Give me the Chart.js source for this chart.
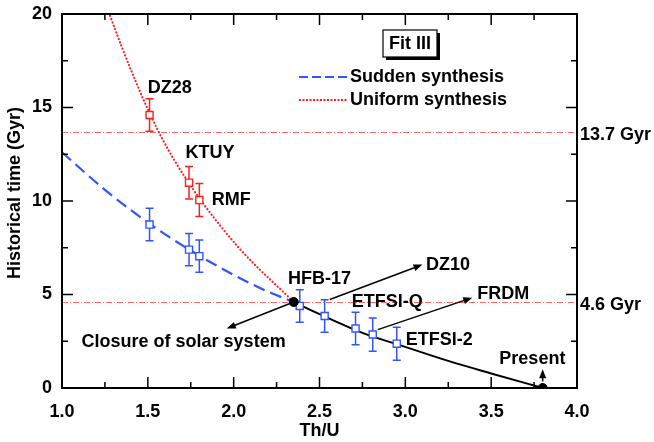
<!DOCTYPE html>
<html>
<head>
<meta charset="utf-8">
<script src="https://cdn.jsdelivr.net/npm/chart.js@4.4.0/dist/chart.umd.min.js"></script>
<style>
html, body { margin: 0; padding: 0; background: #fff; }
#wrap { width: 654px; height: 442px; }
</style>
</head>
<body>
<div id="wrap"><canvas id="chart"></canvas></div>
<script>
// curves
const suddenX = [1.0, 1.25, 1.5, 1.75, 2.0, 2.2, 2.35];
const suddenY = [12.6, 10.6, 8.85, 7.35, 6.05, 5.15, 4.6];
const uniformX = [1.28, 1.35, 1.42, 1.50, 1.58, 1.66, 1.74, 1.82, 1.92, 2.03, 2.15, 2.25, 2.35];
const uniformY = [19.9, 18.2, 16.6, 14.9, 13.4, 12.1, 10.95, 9.9, 8.7, 7.5, 6.35, 5.48, 4.6];
const presentX = [2.35, 2.5, 2.75, 3.0, 3.25, 3.5, 3.8];
const presentY = [4.6, 3.95, 2.95, 2.2, 1.45, 0.78, 0];

// mass models and their Th/U
const models = ["DZ28", "KTUY", "RMF", "HFB-17", "DZ10", "ETFSI-Q", "FRDM", "ETFSI-2"];
const thU = [1.51, 1.74, 1.80, 2.385, 2.53, 2.71, 2.81, 2.95];
const suddenT = [8.74, 7.40, 7.05, 4.39, 3.85, 3.18, 2.86, 2.37];
const suddenErr = [0.87, 0.86, 0.86, 0.87, 0.87, 0.87, 0.89, 0.88];
const uniformT = [14.6, 10.98, 10.05];
const uniformErr = [0.87, 0.87, 0.88];

// solar system closure and present
const markX = [2.35, 3.8];
const markY = [4.6, 0];

const refLines = [13.7, 4.6];
const refLabels = ["13.7 Gyr", "4.6 Gyr"];

const xTicks = [1.0, 1.5, 2.0, 2.5, 3.0, 3.5, 4.0];
const xMinor = [1.25, 1.75, 2.25, 2.75, 3.25, 3.75];
const yTicks = [0, 5, 10, 15, 20];
const yMinor = [2.5, 7.5, 12.5, 17.5];

const BLUE = "#2f55ff";
const RED = "#ff1e1e";
const FAMILY = '"Liberation Sans", Arial, sans-serif';
const FONT = "bold 18px " + FAMILY;

const pts = (xs, ys) => xs.map((v, i) => ({ x: v, y: ys[i] }));

// labels: [text, x, y, align]
const notes = [
    ["DZ28", 1.50, 16.05, "left"],
    ["KTUY", 1.72, 12.55, "left"],
    ["RMF", 1.872, 10.07, "left"],
    ["HFB-17", 2.317, 5.83, "left"],
    ["DZ10", 3.12, 6.56, "left"],
    ["ETFSI-Q", 2.688, 4.60, "left"],
    ["FRDM", 3.419, 5.05, "left"],
    ["ETFSI-2", 3.003, 2.59, "left"],
    ["Present", 3.74, 1.56, "center"],
    ["Closure of solar system", 1.114, 2.48, "left"],
];
// arrows: [x1, y1, x2, y2], head at the second point
const arrows = [
    [2.35, 4.6, 1.96, 3.18],
    [2.56, 4.73, 3.10, 6.6],
    [2.84, 3.12, 3.39, 4.83],
    [3.8, 0.35, 3.8, 1.0],
];

function arrow(ctx, x1, y1, x2, y2) {
    const ang = Math.atan2(y2 - y1, x2 - x1);
    const c = Math.cos(ang), s = Math.sin(ang);
    ctx.beginPath();
    ctx.moveTo(x1, y1);
    ctx.lineTo(x2 - 6 * c, y2 - 6 * s);
    ctx.stroke();
    ctx.beginPath();
    ctx.moveTo(x2, y2);
    ctx.lineTo(x2 - 9 * c + 3.5 * s, y2 - 9 * s - 3.5 * c);
    ctx.lineTo(x2 - 9 * c - 3.5 * s, y2 - 9 * s + 3.5 * c);
    ctx.closePath();
    ctx.fill();
}

const deco = {
    id: "deco",
    beforeDatasetsDraw(chart) {
        const { ctx, chartArea: a, scales: { x, y } } = chart;
        ctx.save();
        // reference ages
        ctx.strokeStyle = "rgba(255,70,70,0.8)";
        ctx.lineWidth = 1;
        ctx.setLineDash([6, 2, 1, 2]);
        refLines.forEach(v => {
            const py = Math.round(y.getPixelForValue(v)) + 0.5;
            ctx.beginPath();
            ctx.moveTo(a.left, py);
            ctx.lineTo(a.right, py);
            ctx.stroke();
        });
        ctx.setLineDash([]);
        // error bars
        const bar = (xv, yv, e, col) => {
            const px = x.getPixelForValue(xv);
            const t = y.getPixelForValue(yv + e), b = y.getPixelForValue(yv - e);
            ctx.strokeStyle = col;
            ctx.lineWidth = 1.5;
            ctx.beginPath();
            ctx.moveTo(px, t); ctx.lineTo(px, b);
            ctx.moveTo(px - 4, t); ctx.lineTo(px + 4, t);
            ctx.moveTo(px - 4, b); ctx.lineTo(px + 4, b);
            ctx.stroke();
        };
        thU.forEach((v, i) => bar(v, suddenT[i], suddenErr[i], BLUE));
        uniformT.forEach((v, i) => bar(thU[i], v, uniformErr[i], RED));
        ctx.restore();
    },
    afterDraw(chart) {
        const { ctx, chartArea: a, scales: { x, y } } = chart;
        ctx.save();
        // frame
        ctx.strokeStyle = "#000";
        ctx.lineWidth = 2;
        ctx.strokeRect(a.left, a.top, a.right - a.left, a.bottom - a.top);
        // inward ticks on all four sides
        ctx.lineWidth = 1.5;
        const tx = (v, len) => {
            const px = x.getPixelForValue(v);
            ctx.beginPath();
            ctx.moveTo(px, a.bottom); ctx.lineTo(px, a.bottom - len);
            ctx.moveTo(px, a.top); ctx.lineTo(px, a.top + len);
            ctx.stroke();
        };
        const ty = (v, len) => {
            const py = y.getPixelForValue(v);
            ctx.beginPath();
            ctx.moveTo(a.left, py); ctx.lineTo(a.left + len, py);
            ctx.moveTo(a.right, py); ctx.lineTo(a.right - len, py);
            ctx.stroke();
        };
        xTicks.forEach(v => tx(v, 11));
        xMinor.forEach(v => tx(v, 6));
        yTicks.forEach(v => ty(v, 11));
        yMinor.forEach(v => ty(v, 6));

        ctx.font = FONT;
        ctx.fillStyle = "#000";
        ctx.textBaseline = "middle";
        // right-side age labels
        ctx.textAlign = "left";
        refLines.forEach((v, i) => ctx.fillText(refLabels[i], a.right + 3, y.getPixelForValue(v) + 3));
        // model labels
        notes.forEach(([t, xv, yv, al]) => {
            ctx.textAlign = al;
            ctx.fillText(t, x.getPixelForValue(xv), y.getPixelForValue(yv));
        });
        // arrows
        ctx.strokeStyle = "#000";
        ctx.lineWidth = 1.5;
        arrows.forEach(([x1, y1, x2, y2]) => arrow(ctx,
            x.getPixelForValue(x1), y.getPixelForValue(y1),
            x.getPixelForValue(x2), y.getPixelForValue(y2)));

        // Fit III box
        ctx.fillStyle = "#000";
        ctx.fillRect(386, 33, 54, 27);
        ctx.fillStyle = "#fff";
        ctx.fillRect(383, 30, 54, 27);
        ctx.lineWidth = 1.2;
        ctx.strokeRect(383, 30, 54, 27);
        ctx.fillStyle = "#000";
        ctx.textAlign = "center";
        ctx.fillText("Fit III", 410, 44);

        // legend
        ctx.lineWidth = 2;
        ctx.strokeStyle = BLUE;
        ctx.setLineDash([9, 4]);
        ctx.beginPath(); ctx.moveTo(299, 77); ctx.lineTo(347, 77); ctx.stroke();
        ctx.strokeStyle = RED;
        ctx.setLineDash([2, 1.5]);
        ctx.beginPath(); ctx.moveTo(299, 100); ctx.lineTo(347, 100); ctx.stroke();
        ctx.setLineDash([]);
        ctx.textAlign = "left";
        ctx.fillText("Sudden synthesis", 350, 77);
        ctx.fillText("Uniform synthesis", 350, 100);

        // axis titles
        ctx.textAlign = "center";
        ctx.fillText("Th/U", (a.left + a.right) / 2, 431);
        ctx.translate(15, 193);
        ctx.rotate(-Math.PI / 2);
        ctx.fillText("Historical time (Gyr)", 0, 0);
        ctx.restore();
    }
};

const squares = (ys, n, col) => ({
    data: pts(thU.slice(0, n), ys),
    showLine: false,
    pointStyle: "rect",
    pointRadius: 5,
    pointBorderWidth: 1.4,
    pointBorderColor: col,
    pointBackgroundColor: "#fff",
});

new Chart(document.getElementById("chart"), {
    type: "scatter",
    data: {
        datasets: [
            {
                data: pts(markX, markY),
                showLine: false,
                pointStyle: "circle",
                pointRadius: 4.5,
                pointBackgroundColor: "#000",
                pointBorderColor: "#000",
            },
            squares(suddenT, thU.length, BLUE),
            squares(uniformT, uniformT.length, RED),
            {
                data: pts(presentX, presentY),
                showLine: true,
                pointRadius: 0,
                borderColor: "#000",
                borderWidth: 2,
                cubicInterpolationMode: "monotone",
            },
            {
                data: pts(suddenX, suddenY),
                showLine: true,
                pointRadius: 0,
                borderColor: BLUE,
                borderWidth: 2.2,
                borderDash: [12, 6],
                cubicInterpolationMode: "monotone",
            },
            {
                data: pts(uniformX, uniformY),
                showLine: true,
                pointRadius: 0,
                borderColor: RED,
                borderWidth: 2.2,
                borderCapStyle: "round",
                borderDash: [0.1, 3.4],
                cubicInterpolationMode: "monotone",
            },
        ],
    },
    plugins: [deco],
    options: {
        responsive: true,
        maintainAspectRatio: false,
        animation: false,
        layout: { padding: { left: 0, right: 77, top: 14, bottom: 0 } },
        plugins: { legend: { display: false }, tooltip: { enabled: false } },
        scales: {
            x: {
                type: "linear",
                min: 1, max: 4,
                afterFit: s => { s.height = 54; s.paddingLeft = 0; s.paddingRight = 0; },
                grid: { display: false, drawTicks: false },
                border: { display: false },
                ticks: {
                    stepSize: 0.5,
                    padding: 13,
                    color: "#000",
                    font: { family: FAMILY, size: 18, weight: "bold" },
                    callback: v => v.toFixed(1),
                },
            },
            y: {
                type: "linear",
                min: 0, max: 20,
                afterFit: s => { s.width = 62; s.paddingTop = 0; s.paddingBottom = 0; },
                grid: { display: false, drawTicks: false },
                border: { display: false },
                ticks: {
                    stepSize: 5,
                    padding: 10,
                    color: "#000",
                    font: { family: FAMILY, size: 18, weight: "bold" },
                },
            },
        },
    },
});
</script>
</body>
</html>
